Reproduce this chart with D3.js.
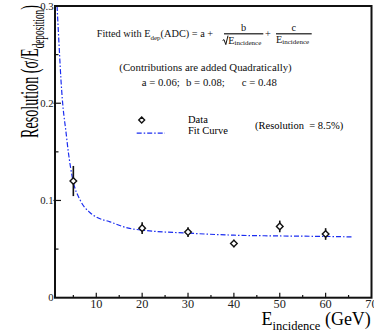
<!DOCTYPE html>
<html>
<head>
<meta charset="utf-8">
<script src="https://cdn.jsdelivr.net/npm/d3@7"></script>
<style>
  body { margin: 0; background: #fff; }
  svg { display: block; font-family: "Liberation Serif", "DejaVu Serif", serif; }
</style>
</head>
<body>
<div id="chart"></div>
<script>
// measured points
var energies = [5, 20, 30, 40, 50, 60];
var resolution = [0.120, 0.0715, 0.0675, 0.0557, 0.0733, 0.0655];
var resErrors = [0.0155, 0.006, 0.005, 0.0038, 0.006, 0.006];

// fit curve
var fitE = [1.45, 1.94, 2.3, 2.6, 2.8, 3.33, 3.9, 4.85, 6.45, 8.6, 10, 13, 17, 20, 30, 40, 50, 60, 66];
var fitRes = [0.300, 0.255, 0.224, 0.204, 0.1935, 0.173, 0.150, 0.122, 0.1007, 0.0876, 0.083, 0.078, 0.0715, 0.0695, 0.0664, 0.0643, 0.0635, 0.063, 0.0625];

var xMajor = [10, 20, 30, 40, 50, 60, 70];
var xMinor = [5, 15, 25, 35, 45, 55, 65];
var yMajor = [0, 0.1, 0.2, 0.3];
var yMinor = [0.05, 0.15, 0.25];

var width = 374, height = 331;
var svg = d3.select('#chart').append('svg')
    .attr('width', width)
    .attr('height', height);

var x = d3.scaleLinear().domain([1, 70]).range([55, 371.5]);
var y = d3.scaleLinear().domain([0, 0.3]).range([297.7, 6]);

svg.append('clipPath').attr('id', 'plot')
  .append('rect')
    .attr('x', x(1)).attr('y', y(0.3))
    .attr('width', x(70) - x(1)).attr('height', y(0) - y(0.3));

// fit curve
var line = d3.line()
    .x(function(d, i) { return x(fitE[i]); })
    .y(function(d) { return y(d); })
    .curve(d3.curveMonotoneX);

svg.append('path')
    .attr('clip-path', 'url(#plot)')
    .attr('d', line(fitRes))
    .attr('fill', 'none')
    .attr('stroke', '#1a2cf0')
    .attr('stroke-width', 1.2)
    .attr('stroke-dasharray', '5,2,1.5,2');

// data points
var pts = svg.append('g').attr('class', 'points');
energies.forEach(function(e, i) {
  var cx = x(e), cy = y(resolution[i]);
  pts.append('line')
      .attr('x1', cx).attr('x2', cx)
      .attr('y1', y(resolution[i] + resErrors[i]))
      .attr('y2', y(resolution[i] - resErrors[i]))
      .attr('stroke', '#111').attr('stroke-width', 1.6);
  pts.append('path')
      .attr('d', d3.symbol().type(d3.symbolDiamond2).size(28)())
      .attr('transform', 'translate(' + cx + ',' + cy + ')')
      .attr('fill', '#fff').attr('stroke', '#111').attr('stroke-width', 1.4);
});

// frame
svg.append('rect')
    .attr('x', x(1)).attr('y', y(0.3))
    .attr('width', x(70) - x(1)).attr('height', y(0) - y(0.3))
    .attr('fill', 'none').attr('stroke', '#111').attr('stroke-width', 2);

// ticks (inward)
var ticks = svg.append('g').attr('stroke', '#111').attr('stroke-width', 1.2);
ticks.selectAll('.xmaj').data(xMajor.slice(0, -1)).enter().append('line')
    .attr('x1', x).attr('x2', x)
    .attr('y1', y(0)).attr('y2', y(0) - 5);
ticks.selectAll('.xmin').data(xMinor).enter().append('line')
    .attr('x1', x).attr('x2', x)
    .attr('y1', y(0)).attr('y2', y(0) - 2.7);
ticks.selectAll('.ymaj').data(yMajor.slice(1, -1)).enter().append('line')
    .attr('x1', x(1) - 1.5).attr('x2', x(1) + 6)
    .attr('y1', y).attr('y2', y);
ticks.selectAll('.ymin').data(yMinor).enter().append('line')
    .attr('x1', x(1)).attr('x2', x(1) + 3.5)
    .attr('y1', y).attr('y2', y);

// tick labels
svg.append('g').selectAll('text').data(xMajor).enter().append('text')
    .attr('x', x).attr('y', 308)
    .attr('text-anchor', 'middle')
    .attr('font-size', 12.3).attr('fill', '#222')
    .text(function(d) { return d; });
svg.append('g').selectAll('text').data(yMajor).enter().append('text')
    .attr('x', 53.5).attr('y', function(d) { return y(d) + 3.6; })
    .attr('text-anchor', 'end')
    .attr('font-size', 10.7).attr('fill', '#222')
    .text(function(d) { return d; });

// x axis title
var xt = svg.append('text').attr('x', 261.5).attr('y', 325).attr('font-size', 18);
xt.append('tspan').text('E');
xt.append('tspan').attr('font-size', 12.5).attr('dy', 4.5).text('incidence');
xt.append('tspan').attr('dy', -4.5).text(' (GeV)');

// y axis title, squeezed along its baseline like the original
var yg = svg.append('g');
var yt = yg.append('text').attr('x', 0).attr('y', 0).attr('font-size', 26);
yt.append('tspan').text('Resolution (σ/E');
yt.append('tspan').attr('font-size', 17).attr('dy', 6).text('deposition');
yt.append('tspan').attr('dy', -6).text(')');
var ytw = yt.node().getComputedTextLength();
yt.attr('x', -ytw / 2);
yg.attr('transform', 'translate(38.3,71.5) rotate(-90) scale(' + (133 / ytw) + ',1)');

// formula
var ann = svg.append('g').attr('fill', '#111');
var f1 = ann.append('text').attr('x', 96.7).attr('y', 36.5).attr('font-size', 10.3);
f1.append('tspan').text('Fitted with E');
f1.append('tspan').attr('font-size', 7).attr('dy', 3).text('dep');
f1.append('tspan').attr('dy', -3).text('(ADC) = a +');

ann.append('line').attr('x1', 224).attr('x2', 263.3).attr('y1', 33.7).attr('y2', 33.7)
    .attr('stroke', '#444').attr('stroke-width', 1.6);
ann.append('text').attr('x', 243.7).attr('y', 31.3).attr('font-size', 10.3)
    .attr('text-anchor', 'middle').text('b');
ann.append('path').attr('d', 'M222.6,40.5 L224,39.6 L225.8,44.6 L228,35.6')
    .attr('fill', 'none').attr('stroke', '#111').attr('stroke-width', 1);
var s1 = ann.append('text').attr('x', 228.2).attr('y', 43.5).attr('font-size', 10.3);
s1.append('tspan').text('E');
s1.append('tspan').attr('font-size', 7).attr('dy', 1.5).text('incidence');

ann.append('text').attr('x', 268).attr('y', 36.5).attr('font-size', 10.3)
    .attr('text-anchor', 'middle').text('+');

ann.append('line').attr('x1', 276).attr('x2', 311.7).attr('y1', 33.7).attr('y2', 33.7)
    .attr('stroke', '#444').attr('stroke-width', 1.6);
ann.append('text').attr('x', 293.8).attr('y', 31.3).attr('font-size', 10.3)
    .attr('text-anchor', 'middle').text('c');
var s2 = ann.append('text').attr('x', 276).attr('y', 42.5).attr('font-size', 10.3);
s2.append('tspan').text('E');
s2.append('tspan').attr('font-size', 7).attr('dy', 1.5).text('incidence');

ann.append('text').attr('x', 205.5).attr('y', 71.3).attr('font-size', 10.8)
    .attr('text-anchor', 'middle').text('(Contributions are added Quadratically)');
ann.append('text').attr('x', 141.7).attr('y', 86).attr('font-size', 10.8).text('a = 0.06;');
ann.append('text').attr('x', 186).attr('y', 86).attr('font-size', 10.8).text('b = 0.08;');
ann.append('text').attr('x', 241.7).attr('y', 86).attr('font-size', 10.8).text('c = 0.48');

// legend
var leg = svg.append('g');
leg.append('path')
    .attr('d', d3.symbol().type(d3.symbolDiamond2).size(22)())
    .attr('transform', 'translate(141.7,120)')
    .attr('fill', '#fff').attr('stroke', '#111').attr('stroke-width', 1.4);
leg.append('line').attr('x1', 136.7).attr('x2', 165).attr('y1', 133.2).attr('y2', 133.2)
    .attr('stroke', '#1a2cf0').attr('stroke-width', 1.2).attr('stroke-dasharray', '5,2,1.5,2');
leg.append('text').attr('x', 188).attr('y', 123.2).attr('font-size', 10.5).text('Data');
leg.append('text').attr('x', 188).attr('y', 133.8).attr('font-size', 10.5).text('Fit Curve');
leg.append('text').attr('x', 255).attr('y', 129.3).attr('font-size', 10.5)
    .attr('xml:space', 'preserve').style('white-space', 'pre')
    .text('(Resolution  = 8.5%)');
</script>
</body>
</html>
